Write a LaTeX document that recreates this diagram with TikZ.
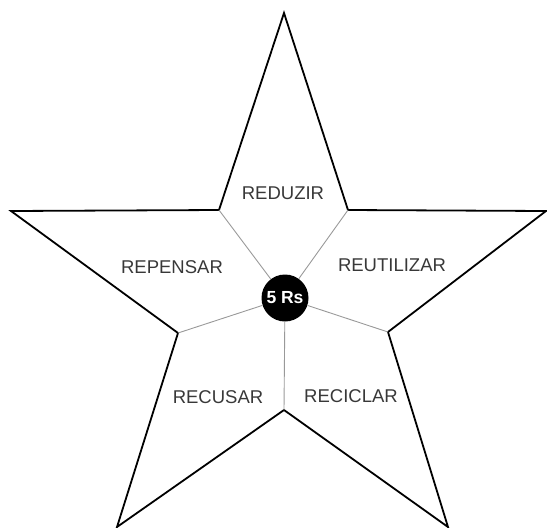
\documentclass[tikz,border=0pt]{standalone}
\usepackage{fontspec}
\setmainfont{Liberation Sans}
\begin{document}
\begin{tikzpicture}[x=1pt,y=-1pt,
  outline/.style={draw=black,line width=1.8pt,line join=miter},
  spoke/.style={draw=gray!80,line width=0.9pt},
  lbl/.style={font=\fontsize{18.5}{18.5}\selectfont,text=black!78},
  hub/.style={circle,fill=black,minimum size=47pt,inner sep=0pt,text=white,font=\bfseries\fontsize{17.5}{17.5}\selectfont}]
\useasboundingbox (0,0) rectangle (547,528);
% outer points
\coordinate (pT) at (284,13);
\coordinate (pL) at (11,211);
\coordinate (pR) at (546,211);
\coordinate (pBL) at (117,527);
\coordinate (pBR) at (448,527);
% inner vertices
\coordinate (iTL) at (219,210);
\coordinate (iTR) at (348,210);
\coordinate (iL) at (178,333);
\coordinate (iR) at (388,332);
\coordinate (iB) at (284,410);
\draw[outline] (pT) -- (iTR) -- (pR) -- (iR) -- (pBR) -- (iB) -- (pBL) -- (iL) -- (pL) -- (iTL) -- cycle;
\node[hub] (hub) at (285,298) {5 Rs};
\draw[spoke] (hub) -- (iTL);
\draw[spoke] (hub) -- (iTR);
\draw[spoke] (hub) -- (iL);
\draw[spoke] (hub) -- (iR);
\draw[spoke] (hub) -- (iB);
\node[lbl] (reduzir) at (283,193) {REDUZIR};
\node[lbl] (repensar) at (172,267) {REPENSAR};
\node[lbl] (reutilizar) at (392,265) {REUTILIZAR};
\node[lbl] (recusar) at (218,397) {RECUSAR};
\node[lbl] (reciclar) at (351,396) {RECICLAR};
\end{tikzpicture}
\end{document}
